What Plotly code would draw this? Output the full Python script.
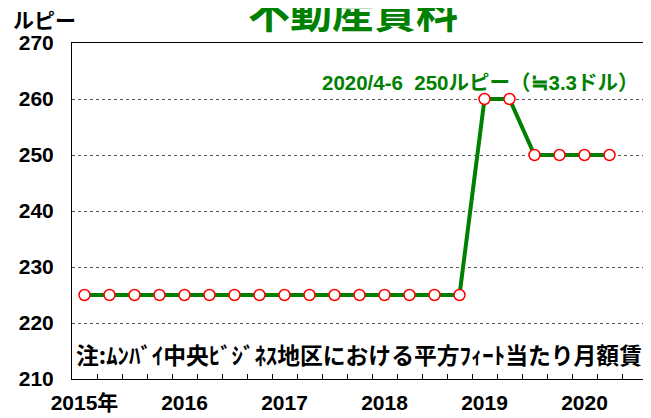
import plotly.graph_objects as go

# quarterly rent, 2015 Q1 .. 2020 Q2 (rupees / sq ft / month)
quarters = ["2015Q1", "2015Q2", "2015Q3", "2015Q4",
            "2016Q1", "2016Q2", "2016Q3", "2016Q4",
            "2017Q1", "2017Q2", "2017Q3", "2017Q4",
            "2018Q1", "2018Q2", "2018Q3", "2018Q4",
            "2019Q1", "2019Q2", "2019Q3", "2019Q4",
            "2020Q1", "2020Q2"]
rent = [225, 225, 225, 225,
        225, 225, 225, 225,
        225, 225, 225, 225,
        225, 225, 225, 225,
        260, 260, 250, 250,
        250, 250]
year_pos = [0, 4, 8, 12, 16, 20]
year_labels = ["2015年", "2016", "2017", "2018", "2019", "2020"]
y_ticks = [210, 220, 230, 240, 250, 260, 270]

CJK = "Noto Sans CJK JP"
LATIN = "Liberation Sans, Noto Sans CJK JP"
NARROW = "Liberation Sans Narrow, Liberation Sans, Noto Sans CJK JP"
GREEN = "#008000"

x = list(range(len(quarters)))

fig = go.Figure()
fig.add_trace(go.Scatter(
    x=x, y=rent, mode="lines+markers",
    line=dict(color=GREEN, width=4),
    marker=dict(size=11, color="white", line=dict(color="#ff0000", width=1.5)),
    text=quarters, hoverinfo="text+y", showlegend=False))

# the page body adds an 8px offset, so margins are set 8px smaller on left/top
fig.update_layout(
    width=651, height=418,
    margin=dict(l=64, r=10, t=35, b=47),
    plot_bgcolor="white", paper_bgcolor="white",
    font=dict(family=LATIN, color="black", size=21, weight="bold"),
    xaxis=dict(range=[-0.5, 22.58], showgrid=False, zeroline=False, automargin=False,
               showline=True, linecolor="black", linewidth=1, mirror=True,
               tickvals=year_pos, ticktext=year_labels, ticks="",
               tickfont=dict(family=NARROW, size=21),
               ticklabelstandoff=5,
               minor=dict(tickvals=[i + 0.5 for i in range(22)],
                          ticks="inside", ticklen=5, tickcolor="black", showgrid=False)),
    yaxis=dict(range=[210, 270], tickvals=y_ticks, showgrid=True, automargin=False,
               gridcolor="#555555", griddash="dot", gridwidth=1, zeroline=False,
               showline=True, linecolor="black", linewidth=1, mirror=True,
               ticks="", ticklabelstandoff=13),
)

fig.add_annotation(text="不動産賃料", xref="paper", yref="paper",
                   x=0.487, y=1.101, yanchor="middle", showarrow=False,
                   font=dict(family=CJK, size=42, color=GREEN, weight="bold"))
fig.add_annotation(text="ルピー", xref="paper", yref="paper",
                   x=-0.0485, y=1.072, xanchor="center", yanchor="middle", showarrow=False,
                   font=dict(family=CJK, size=21, weight="bold"))
fig.add_annotation(text="2020/4-6  250ルピー（≒3.3ドル）", xref="paper", yref="y",
                   x=0.986, y=263.0, xanchor="right", yanchor="middle", showarrow=False,
                   font=dict(size=20.5, color=GREEN, weight="bold"))
fig.add_annotation(text="注:ﾑﾝﾊﾞｲ中央ﾋﾞｼﾞﾈｽ地区における平方ﾌｨｰﾄ当たり月額賃",
                   xref="paper", yref="y",
                   x=0.004, y=214.3, xanchor="left", yanchor="middle", showarrow=False,
                   font=dict(family=CJK, size=22.8, weight="bold"))

fig.write_html("out.html")
